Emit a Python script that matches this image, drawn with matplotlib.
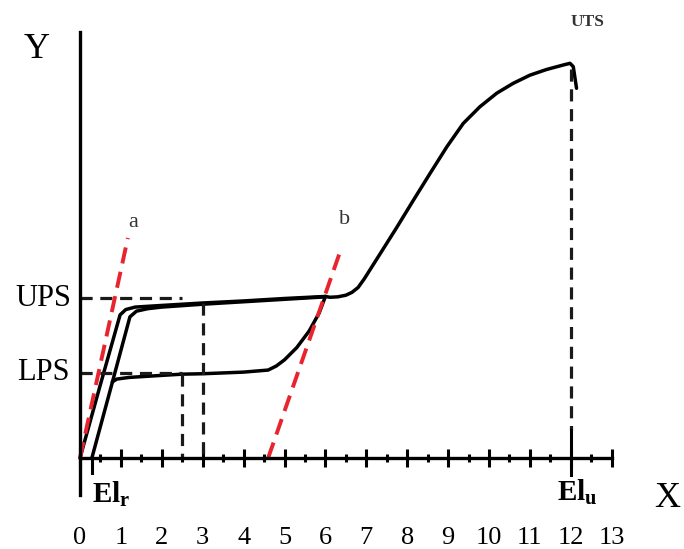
import matplotlib.pyplot as plt
import numpy as np

plt.rcParams['font.family'] = ['Liberation Serif', 'DejaVu Serif']
plt.rcParams['mathtext.fontset'] = 'custom'
plt.rcParams['mathtext.rm'] = 'Liberation Serif'
plt.rcParams['mathtext.bf'] = 'Liberation Serif:bold'

# curves (x in axis units, y in the same scale)
up1_x = [0.0, 0.5, 0.98, 1.12, 1.35, 2.0, 3.0, 4.0, 5.0, 6.0]
up1_y = [0.0, 1.8, 3.5, 3.63, 3.69, 3.73, 3.79, 3.84, 3.9, 3.95]
up2_x = [0.29, 0.75, 1.22, 1.38, 1.65, 2.0, 3.0, 4.0, 5.0, 6.0]
up2_y = [0.0, 1.7, 3.45, 3.59, 3.65, 3.69, 3.76, 3.82, 3.88, 3.94]
low_x = [0.79, 0.9, 1.2, 2.0, 2.5, 3.0, 4.0, 4.6, 4.8, 5.0, 5.3, 5.6, 5.85, 6.0]
low_y = [1.86, 1.93, 1.97, 2.02, 2.05, 2.06, 2.1, 2.15, 2.25, 2.4, 2.7, 3.1, 3.55, 3.95]
main_x = [6.0, 6.11, 6.3, 6.5, 6.65, 6.8, 6.95, 7.33, 7.74, 8.15, 8.56, 8.97, 9.37, 9.78,
          10.19, 10.59, 11.0, 11.41, 11.82, 11.98, 12.06, 12.14]
main_y = [3.95, 3.93, 3.94, 3.98, 4.05, 4.17, 4.38, 4.98, 5.63, 6.3, 6.96, 7.61, 8.18, 8.59,
          8.92, 9.16, 9.36, 9.5, 9.61, 9.65, 9.57, 9.04]

ups = 3.9
lps = 2.08
el_r = 0.29
el_u = 12.0

line_a_x = [0.0, 1.17]
line_a_y = [0.0, 5.38]
line_b_x = [4.6, 6.4]
line_b_y = [0.0, 5.16]

xticks = list(range(0, 14))

px = 40.9
fig = plt.figure(figsize=(6.84, 5.49), dpi=100)
ax = fig.add_axes([0, 0, 1, 1])
ax.set_xlim(-80 / px, 604 / px)
ax.set_ylim((458 - 549) / px, 458 / px)

k = 'black'
lw = 2.5
ax.plot(up1_x, up1_y, color=k, lw=lw, solid_capstyle='round', solid_joinstyle='round')
ax.plot(up2_x, up2_y, color=k, lw=lw, solid_capstyle='round', solid_joinstyle='round')
ax.plot(low_x, low_y, color=k, lw=lw, solid_capstyle='round', solid_joinstyle='round')
ax.plot(main_x, main_y, color=k, lw=lw, solid_capstyle='round', solid_joinstyle='round')
ax.plot([el_r, el_r], [0, -0.37], color=k, lw=2.2)

dash = dict(color='#1a1a1a', lw=2.3, dashes=(3.8, 2.4))
ax.plot([0, 2.5], [ups, ups], **dash)
ax.plot([0, 2.5], [lps, lps], **dash)
ax.plot([2.5, 2.5], [2.05, 0], **dash)
ax.plot([3.0, 3.0], [3.79, 0], **dash)
ax.plot([el_u, el_u], [9.5, 0.68], **dash)
ax.plot([el_u, el_u], [0.68, -0.42], color=k, lw=2.2)

red = dict(color='#e8252e', lw=2.8, dashes=(4.2, 2.2))
ax.plot(line_a_x, line_a_y, **red)
ax.plot(line_b_x, line_b_y, **red)

for s in ['top', 'right']:
    ax.spines[s].set_visible(False)
ax.spines['left'].set_position(('data', 0))
ax.spines['bottom'].set_position(('data', 0))
ax.spines['left'].set_bounds(-0.9, 10.42)
ax.spines['bottom'].set_bounds(0, 13)
ax.spines['left'].set_linewidth(2.4)
ax.spines['bottom'].set_linewidth(2.4)
ax.set_yticks([])
ax.set_xticks(xticks)
ax.set_xticks(np.arange(0.5, 13, 1.0), minor=True)
ax.tick_params(axis='x', which='major', direction='inout', length=13, width=2.2,
               pad=43, labelsize=19)
ax.tick_params(axis='x', which='minor', direction='inout', length=6, width=2.2)

ax.text(-1.05, 10.0, 'Y', fontsize=26, ha='center', va='center')
ax.text(14.37, -1.0, 'X', fontsize=26, ha='center', va='center')
ax.text(-0.9, ups, 'UPS', fontsize=22, ha='center', va='center')
ax.text(-0.9, lps, 'LPS', fontsize=22, ha='center', va='center')
ax.text(el_r, -1.08, r'$\mathbf{El}_{\mathbf{r}}$', fontsize=21, ha='left', va='baseline')
ax.text(11.66, -1.03, r'$\mathbf{El}_{\mathbf{u}}$', fontsize=21, ha='left', va='baseline')
ax.text(1.3, 5.77, 'a', fontsize=16, ha='center', va='center', color='#333333')
ax.text(6.48, 5.82, 'b', fontsize=16, ha='center', va='center', color='#333333')
ax.text(12.4, 10.66, 'UTS', fontsize=12.5, ha='center', va='center', fontweight='bold',
        color='#333333')

fig.savefig('out.png', dpi=100)
